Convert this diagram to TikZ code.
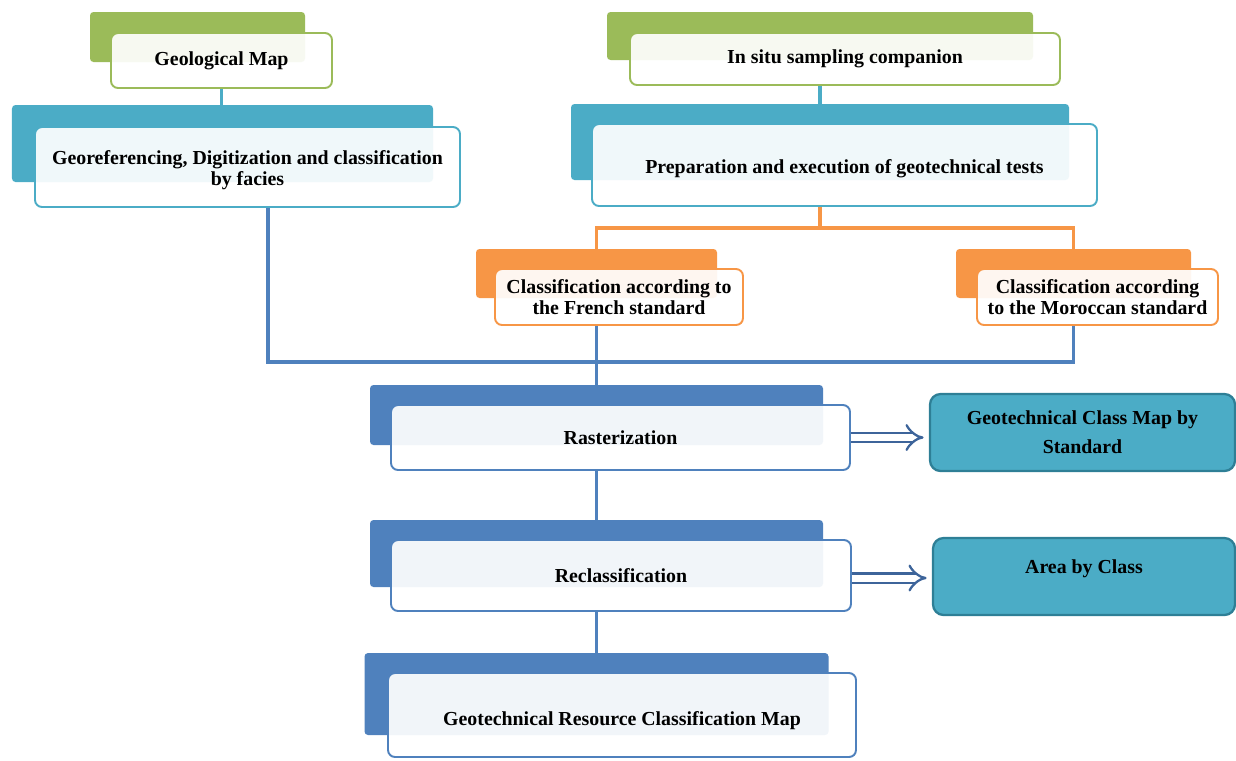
\documentclass[tikz,border=0pt]{standalone}
\usepackage{fontspec}
\setmainfont{Liberation Serif}
\usepackage{tikz}
\usetikzlibrary{positioning, arrows.meta}

\definecolor{geoGreen}{HTML}{9BBB59}
\definecolor{geoTeal}{HTML}{4BACC6}
\definecolor{geoTealDark}{HTML}{2E7F96}
\definecolor{geoOrange}{HTML}{F79646}
\definecolor{geoBlue}{HTML}{4F81BD}
\definecolor{geoArrow}{HTML}{3D649A}

\begin{document}
\begin{tikzpicture}[
    font=\fontsize{11.3}{12}\selectfont\bfseries,
    tab/.style={fill=#1, rounded corners=2pt, inner sep=0pt},
    stepbox/.style={draw=#1, line width=1.1pt, fill=white, fill opacity=0.92,
        text opacity=1, rounded corners=4pt, align=center, inner sep=2pt},
    result/.style={draw=geoTealDark, fill=geoTeal, line width=1.3pt,
        rounded corners=6pt, align=center, inner sep=2pt},
    link/.style={line width=1.8pt, draw=#1},
    doublearrow/.style={draw=geoArrow, line width=1.3pt, double=white,
        double distance=4pt, -{Implies[length=7pt, width=15pt]}, shorten >=3pt}
]
    \useasboundingbox (0,0) rectangle (24.72,-15.2);

    % Left branch: geological map
    \node[tab=geoGreen, minimum width=4.3cm, minimum height=1cm] (geomapTab) at (3.95,-0.74) {};
    \node[stepbox=geoGreen, minimum width=4.42cm, minimum height=1.1cm] (geomap) at (4.43,-1.21) {Geological Map};
    \node[tab=geoTeal, minimum width=8.42cm, minimum height=1.54cm] (georefTab) at (4.45,-2.87) {};
    \node[stepbox=geoTeal, minimum width=8.5cm, minimum height=1.6cm, text height=0.81cm] (georef) at (4.95,-3.34)
        {Georeferencing, Digitization and classification\\by facies};

    % Right branch: sampling and tests
    \node[tab=geoGreen, minimum width=8.52cm, minimum height=0.96cm] (insituTab) at (16.4,-0.72) {};
    \node[stepbox=geoGreen, minimum width=8.6cm, minimum height=1.04cm] (insitu) at (16.9,-1.18) {In situ sampling companion};
    \node[tab=geoTeal, minimum width=9.96cm, minimum height=1.52cm] (prepTab) at (16.4,-2.84) {};
    \node[stepbox=geoTeal, minimum width=10.1cm, minimum height=1.64cm, text height=0.42cm] (prep) at (16.89,-3.3)
        {Preparation and execution of geotechnical tests};

    % Two standards
    \node[tab=geoOrange, minimum width=4.82cm, minimum height=0.98cm] (frenchTab) at (11.93,-5.47) {};
    \node[stepbox=geoOrange, minimum width=4.96cm, minimum height=1.12cm] (french) at (12.38,-5.94)
        {Classification according to\\the French standard};
    \node[tab=geoOrange, minimum width=4.7cm, minimum height=0.98cm] (moroccanTab) at (21.47,-5.47) {};
    \node[stepbox=geoOrange, minimum width=4.82cm, minimum height=1.12cm] (moroccan) at (21.95,-5.94)
        {Classification according\\to the Moroccan standard};

    % Raster processing chain
    \node[tab=geoBlue, minimum width=9.06cm, minimum height=1.2cm] (rasterTab) at (11.93,-8.3) {};
    \node[stepbox=geoBlue, minimum width=9.18cm, minimum height=1.3cm] (raster) at (12.41,-8.75) {Rasterization};
    \node[tab=geoBlue, minimum width=9.06cm, minimum height=1.34cm] (reclassTab) at (11.93,-11.07) {};
    \node[stepbox=geoBlue, minimum width=9.2cm, minimum height=1.42cm] (reclass) at (12.42,-11.51) {Reclassification};
    \node[tab=geoBlue, minimum width=9.28cm, minimum height=1.64cm] (finalTab) at (11.93,-13.88) {};
    \node[stepbox=geoBlue, minimum width=9.36cm, minimum height=1.68cm, text height=0.5cm] (final) at (12.44,-14.3)
        {Geotechnical Resource Classification Map};

    % Outputs
    \node[result, minimum width=6.1cm, minimum height=1.54cm] (classmap) at (21.65,-8.65)
        {Geotechnical Class Map by\\[0.16cm]Standard};
    \node[result, minimum width=6.04cm, minimum height=1.54cm, text depth=0.4cm] (areaclass) at (21.68,-11.53)
        {Area by Class};

    % Connectors
    \coordinate (split) at (16.4,-4.56);
    \coordinate (merge) at (11.93,-7.24);
    \draw[link=geoTeal] (geomap.south) -- (geomap.south |- georefTab.north);
    \draw[link=geoTeal] (insituTab |- insitu.south) -- (prepTab.north);
    \draw[link=geoOrange] (prepTab |- prep.south) -- (split);
    \draw[link=geoOrange] (frenchTab.north) |- (split) -| (moroccanTab.north);
    \draw[link=geoBlue] ([xshift=0.41cm]georef.south) |- (merge);
    \draw[link=geoBlue] (frenchTab |- french.south) -- (merge);
    \draw[link=geoBlue] (moroccanTab |- moroccan.south) |- (merge);
    \draw[link=geoBlue] (merge) -- (rasterTab.north);
    \draw[link=geoBlue] (rasterTab |- raster.south) -- (reclassTab.north);
    \draw[link=geoBlue] (reclassTab |- reclass.south) -- (finalTab.north);

    % Output arrows
    \draw[doublearrow] (raster.east) -- (raster.east -| classmap.west);
    \draw[doublearrow] ([yshift=-0.05cm]reclass.east) -- ([yshift=-0.05cm]reclass.east -| areaclass.west);
\end{tikzpicture}
\end{document}
